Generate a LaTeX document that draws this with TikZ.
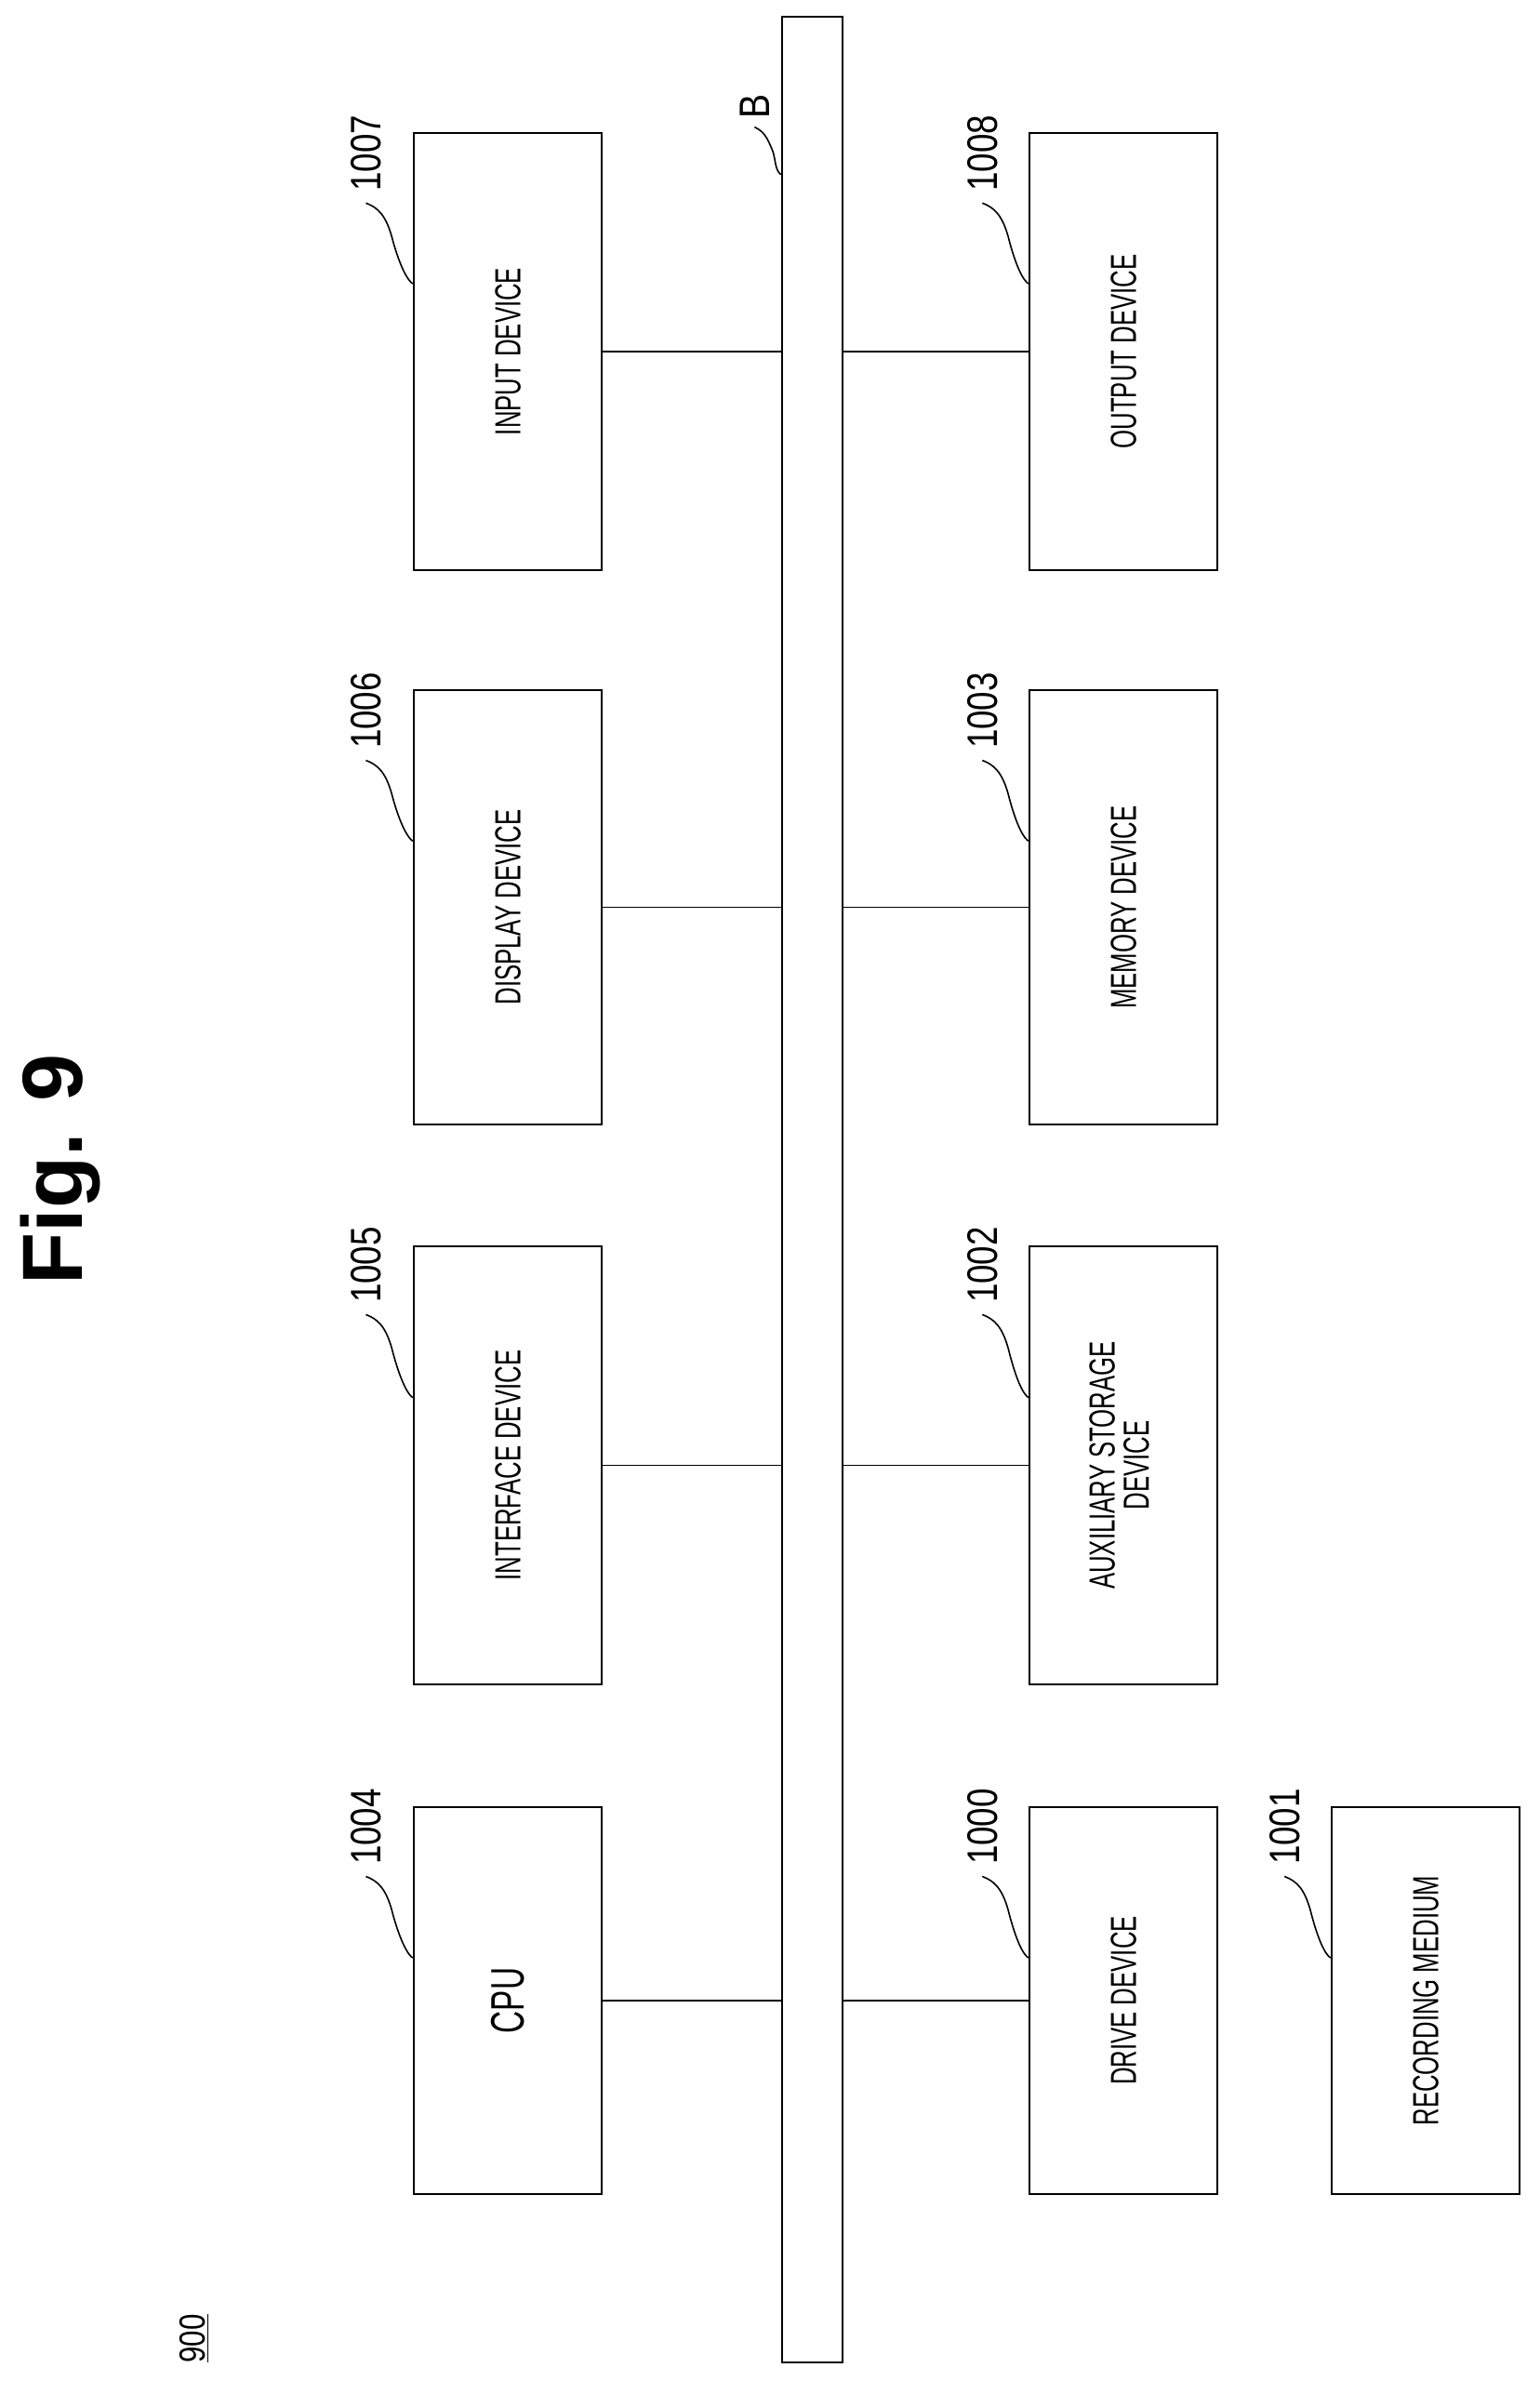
\documentclass[tikz,border=0pt]{standalone}
\usepackage{fontspec}
\setmainfont{Liberation Sans}
\usetikzlibrary{calc}
\begin{document}
\begin{tikzpicture}[x=0.025cm,y=-0.025cm,
    box/.style={draw,line width=0.9pt,minimum width=3.1cm,inner sep=0pt},
    txt/.style={font=\fontsize{17}{19}\selectfont},
    ref/.style={font=\fontsize{20}{22}\selectfont,rotate=90,inner sep=1pt}]
            \useasboundingbox (0,0) rectangle (1014,1568);
            \newcommand\cond[1]{\rotatebox{90}{\scalebox{0.66}[1]{#1}}}
            \newcommand\refmark[3]{% {<label pos>}{<box corner>}{<text>}
                \node[ref] (r#3) at #1 {\scalebox{0.8}[1]{#3}};
                \draw[line width=0.7pt] (r#3.west) ++(0,6) .. controls +(8,3) and +(-4,-14) .. ++(17,22) .. controls +(2,8) and +(-6,-4) .. ($#2+(0,100)$);
            }

            \node[txt,font=\bfseries\fontsize{40}{44}\selectfont,rotate=90] (fig) at (40,770) {Fig. 9};
            \node[txt,rotate=90] (num) at (128,1540) {\scalebox{0.8}[1]{\underline{900}}};

            \node[draw,line width=0.9pt,minimum width=1cm,minimum height=38.6cm,inner sep=0pt] (bus) at (535,783.5) {};

            \node[box,minimum height=6.375cm,txt] (cpu) at (334.5,1317.5) {\cond{\fontsize{22}{24}\selectfont CPU}};
            \node[box,minimum height=7.2cm,txt] (iface) at (334.5,965) {\cond{INTERFACE DEVICE}};
            \node[box,minimum height=7.15cm,txt] (disp) at (334.5,597.5) {\cond{DISPLAY DEVICE}};
            \node[box,minimum height=7.2cm,txt] (inp) at (334.5,231.5) {\cond{INPUT DEVICE}};
            \node[box,minimum height=6.375cm,txt] (drv) at (740,1317.5) {\cond{DRIVE DEVICE}};
            \node[box,minimum height=7.2cm,txt] (aux) at (740,965) {\cond{\begin{tabular}{@{}c@{}}AUXILIARY STORAGE\\[-3pt]DEVICE\end{tabular}}};
            \node[box,minimum height=7.15cm,txt] (mem) at (740,597.5) {\cond{MEMORY DEVICE}};
            \node[box,minimum height=7.2cm,txt] (outp) at (740,231.5) {\cond{OUTPUT DEVICE}};
            \node[box,minimum height=6.375cm,txt] (rec) at (939,1317.5) {\cond{RECORDING MEDIUM}};

            \foreach \n in {cpu,iface,disp,inp}
                \draw[line width=0.8pt] (\n.east) -- (\n.east -| bus.west);
            \foreach \n in {drv,aux,mem,outp}
                \draw[line width=0.8pt] (\n.west) -- (\n.west -| bus.east);

            \refmark{(241,1203)}{(cpu.north west)}{1004}
            \refmark{(241,833)}{(iface.north west)}{1005}
            \refmark{(241,468)}{(disp.north west)}{1006}
            \refmark{(241,101)}{(inp.north west)}{1007}
            \refmark{(647,1203)}{(drv.north west)}{1000}
            \refmark{(647,833)}{(aux.north west)}{1002}
            \refmark{(647,468)}{(mem.north west)}{1003}
            \refmark{(647,101)}{(outp.north west)}{1008}
            \refmark{(846,1203)}{(rec.north west)}{1001}

            \node[ref] (rB) at (497,70) {\scalebox{0.85}[1]{B}};
            \draw[line width=0.7pt] (rB.west) ++(0,4) .. controls +(6,3) and +(-4,-10) .. ++(12,16) .. controls +(2,6) and +(-4,-3) .. (bus.west |- 0,115);
\end{tikzpicture}
\end{document}
